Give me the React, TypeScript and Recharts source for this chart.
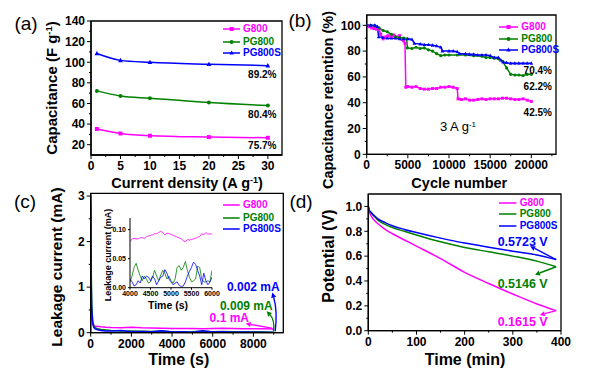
import React from 'react';
import { LineChart, Line, XAxis, YAxis, ReferenceArea, ReferenceLine } from 'recharts';

const FONT = '"Liberation Sans", Arial, Helvetica, sans-serif';
const MAGENTA = '#ff00ff';
const GREEN = '#008000';
const BLUE = '#0000ff';

// (a) capacitance vs current density
const rateDensity = [1, 5, 10, 20, 30];
const rateG800 = [35.2, 30.9, 28.7, 27.4, 26.7];
const ratePG800 = [72.2, 67.3, 65.1, 60.9, 58.0];
const ratePG800S = [108.4, 101.8, 99.9, 98.0, 96.7];
const rateXTicks = [0, 2.5, 5, 7.5, 10, 12.5, 15, 17.5, 20, 22.5, 25, 27.5, 30];
const rateXLabels = [0, 5, 10, 15, 20, 25, 30];
const rateYTicks = [20, 30, 40, 50, 60, 70, 80, 90, 100, 110, 120, 130, 140];
const rateYLabels = [20, 40, 60, 80, 100, 120, 140];

// (b) cycling retention at 3 A/g
const cycG800 = [0, 300, 600, 900, 1200, 1500, 1700, 2000, 2300, 2600, 3000, 3300, 3600, 4000, 4300, 4500, 4650, 4750, 5000, 5500, 6000, 6500, 7000, 7500, 8000, 8500, 9000, 9500, 10000, 10500, 11000, 11100, 11500, 12000, 12500, 13000, 13500, 14000, 14500, 15000, 15500, 16000, 16500, 17000, 17500, 18000, 18500, 19000, 19500, 20000];
const retG800 = [100, 99, 98, 97.5, 97, 97, 93, 89.5, 91, 92, 91, 92.5, 91, 92, 89, 88, 86, 52, 52.5, 52, 52.5, 51, 50.5, 50.5, 51, 51, 52, 52, 52.5, 52, 51, 43, 42.5, 43, 42, 42, 42.5, 43, 42.5, 43, 43, 43, 43.5, 43.5, 43, 42.5, 42.5, 43, 42, 41];
const cycPG800 = [0, 500, 1000, 1500, 2000, 2500, 3000, 3500, 4000, 4500, 4850, 4950, 5500, 6000, 6500, 7000, 7500, 8000, 8500, 9000, 9500, 10000, 11000, 12000, 13000, 14000, 14500, 15000, 15500, 16000, 16500, 17000, 17500, 18000, 18500, 19000, 19500, 20000];
const retPG800 = [100, 100, 99.5, 98, 96, 95, 93, 91, 90.5, 90, 89.5, 82.5, 82, 83, 82, 82.5, 81, 80, 78, 76.5, 77, 77, 77, 77, 76.5, 76, 75, 75, 74.5, 74, 72, 67, 62, 61.5, 61.5, 61, 62, 62];
const cycPG800S = [0, 500, 1000, 1300, 1450, 2000, 2500, 3000, 3500, 4000, 4500, 5000, 5500, 5800, 6500, 7000, 7500, 8000, 8500, 9000, 9200, 10000, 10500, 11000, 11300, 12000, 12500, 13000, 13500, 14000, 14500, 15000, 15500, 16000, 16300, 16600, 17000, 17500, 18000, 18500, 19000, 19500, 20000];
const retPG800S = [100, 100, 100, 99, 91, 90.5, 90, 90, 90, 89.5, 89.5, 89.5, 89, 86, 85.5, 85, 85, 84.5, 84, 83, 80, 80, 80, 79.5, 78, 78, 77.5, 77.5, 77, 77, 77, 76.5, 75, 75, 73, 71.5, 71, 70.5, 70.5, 70.5, 70.5, 70.5, 70.5];
const cycXTicks = [0, 2500, 5000, 7500, 10000, 12500, 15000, 17500, 20000, 22500];
const cycXLabels = [0, 5000, 10000, 15000, 20000];
const cycYTicks = [0, 10, 20, 30, 40, 50, 60, 70, 80, 90, 100];
const cycYLabels = [0, 20, 40, 60, 80, 100];

// (c) leakage current
const leakTime = [0, 20, 50, 100, 150, 200, 300, 500, 750, 1000, 1500, 2000, 2500, 3000, 3500, 4000, 4500, 5000, 5500, 6000, 6500, 7000, 7500, 8000, 8500, 9000];
const leakG800 = [0.9, 0.5, 0.3, 0.2, 0.17, 0.15, 0.14, 0.13, 0.12, 0.115, 0.11, 0.12, 0.11, 0.105, 0.1, 0.09, 0.09, 0.093, 0.085, 0.092, 0.095, 0.09, 0.088, 0.085, 0.085, 0.08];
const leakPG800 = [2.8, 1.6, 0.6, 0.25, 0.15, 0.12, 0.09, 0.07, 0.06, 0.05, 0.04, 0.035, 0.03, 0.025, 0.03, 0.02, 0.015, 0.02, 0.03, 0.02, 0.025, 0.02, 0.015, 0.02, 0.018, 0.009];
const leakPG800S = [3.0, 1.2, 0.5, 0.2, 0.12, 0.09, 0.07, 0.05, 0.04, 0.035, 0.05, 0.02, 0.025, 0.02, 0.04, 0.015, 0.02, 0.01, 0.04, 0.015, 0.02, 0.01, 0.015, 0.01, 0.012, 0.002];
const leakXTicks = [0, 1000, 2000, 3000, 4000, 5000, 6000, 7000, 8000, 9000];
const leakXLabels = [0, 2000, 4000, 6000, 8000];
const leakYTicks = [0, 0.5, 1, 1.5, 2, 2.5, 3];
const leakYLabels = [0, 1, 2, 3];

// (c) inset, 4000-6000 s
const insetTime = [4000, 4050, 4100, 4150, 4200, 4250, 4300, 4350, 4400, 4450, 4500, 4550, 4600, 4650, 4700, 4750, 4800, 4850, 4900, 4950, 5000, 5050, 5100, 5150, 5200, 5250, 5300, 5350, 5400, 5450, 5500, 5550, 5600, 5650, 5700, 5750, 5800, 5850, 5900, 5950, 6000];
const insetG800 = [0.079, 0.084, 0.085, 0.084, 0.084, 0.086, 0.086, 0.085, 0.088, 0.089, 0.09, 0.091, 0.093, 0.093, 0.095, 0.097, 0.095, 0.091, 0.094, 0.093, 0.092, 0.09, 0.089, 0.087, 0.086, 0.084, 0.081, 0.079, 0.083, 0.082, 0.083, 0.084, 0.085, 0.087, 0.088, 0.093, 0.091, 0.095, 0.092, 0.093, 0.092];
const insetPG800 = [0.01, 0.02, 0.035, 0.042, 0.03, 0.02, 0.012, 0.02, 0.015, 0.008, 0.01, 0.018, 0.03, 0.02, 0.012, 0.022, 0.03, 0.025, 0.015, 0.02, 0.012, 0.008, 0.015, 0.035, 0.038, 0.03, 0.035, 0.045, 0.03, 0.018, 0.01, 0.012, 0.015, 0.037, 0.035, 0.015, 0.01, 0.01, 0.012, 0.01, 0.03];
const insetPG800S = [0.015, 0.01, 0.003, 0.005, 0.012, 0.008, 0.02, 0.015, 0.02, 0.018, 0.012, 0.02, 0.015, 0.005, 0.012, 0.018, 0.02, 0.031, 0.025, 0.015, 0.01, 0.005, 0.008, 0.01, 0.004, 0.002, 0.003, 0.01, 0.02, 0.028, 0.035, 0.044, 0.04, 0.03, 0.02, 0.005, 0.025, 0.012, 0.005, 0.01, 0.018];
const insetXTicks = [4000, 4500, 5000, 5500, 6000];
const insetYTicks = [0, 0.05, 0.1];

// (d) self-discharge
const sdTime = [0, 2, 5, 10, 20, 35, 50, 75, 100, 150, 200, 250, 300, 350, 390];
const sdG800 = [1.0, 0.96, 0.93, 0.9, 0.86, 0.815, 0.78, 0.73, 0.68, 0.58, 0.47, 0.38, 0.295, 0.215, 0.1615];
const sdPG800 = [1.0, 0.97, 0.95, 0.93, 0.89, 0.855, 0.83, 0.8, 0.77, 0.715, 0.67, 0.635, 0.6, 0.56, 0.5146];
const sdPG800S = [1.0, 0.97, 0.955, 0.935, 0.9, 0.87, 0.845, 0.815, 0.79, 0.745, 0.705, 0.672, 0.64, 0.61, 0.5723];
const sdXTicks = [0, 50, 100, 150, 200, 250, 300, 350, 400];
const sdXLabels = [0, 100, 200, 300, 400];
const sdYTicks = [0, 0.1, 0.2, 0.3, 0.4, 0.5, 0.6, 0.7, 0.8, 0.9, 1.0];
const sdYLabels = [0, 0.2, 0.4, 0.6, 0.8, 1.0];

const pts = (xs: number[], ys: number[]) => xs.map((x, i) => ({ x, y: ys[i] }));

const AxisTick = (props: any) => {
  const { x, y, payload, side, majors, fmt, size = 12, len = 4, minorLen = 2, gap = 2 } = props;
  const v = payload.value;
  const isMajor = majors.some((m: number) => Math.abs(m - v) < 1e-9);
  const l = isMajor ? len : minorLen;
  if (side === 'bottom') {
    return (
      <g>
        <line x1={x} y1={y} x2={x} y2={y + l} stroke="#000" strokeWidth={1} />
        {isMajor && (
          <text x={x} y={y + len + gap} dy="0.75em" textAnchor="middle" fontSize={size} fontWeight="bold" fontFamily={FONT} fill="#000">
            {fmt(v)}
          </text>
        )}
      </g>
    );
  }
  return (
    <g>
      <line x1={x} y1={y} x2={x - l} y2={y} stroke="#000" strokeWidth={1} />
      {isMajor && (
        <text x={x - len - gap} y={y} dy="0.36em" textAnchor="end" fontSize={size} fontWeight="bold" fontFamily={FONT} fill="#000">
          {fmt(v)}
        </text>
      )}
    </g>
  );
};

const marker = (shape: string, color: string, s: number) => (p: any) => {
  const { cx, cy, index } = p;
  if (cx == null || cy == null) return <g key={`m${index}`} />;
  if (shape === 'square') return <rect key={`m${index}`} x={cx - s} y={cy - s} width={2 * s} height={2 * s} fill={color} />;
  if (shape === 'circle') return <circle key={`m${index}`} cx={cx} cy={cy} r={s} fill={color} />;
  return (
    <polygon key={`m${index}`} points={`${cx},${cy - s * 1.2} ${cx - s * 1.1},${cy + s * 0.8} ${cx + s * 1.1},${cy + s * 0.8}`} fill={color} />
  );
};

const arrowShape = (color: string, bend = 0) => (props: any) => {
  const { x1, y1, x2, y2 } = props;
  const dx = x2 - x1;
  const dy = y2 - y1;
  const L = Math.hypot(dx, dy) || 1;
  const cx = (x1 + x2) / 2 + (-dy / L) * bend;
  const cy = (y1 + y2) / 2 + (dx / L) * bend;
  const ex = x2 - cx;
  const ey = y2 - cy;
  const el = Math.hypot(ex, ey) || 1;
  const ux = ex / el;
  const uy = ey / el;
  const h = 5;
  const w = 2.6;
  const bx = x2 - ux * h;
  const by = y2 - uy * h;
  return (
    <g>
      <path d={`M${x1},${y1} Q${cx},${cy} ${bx},${by}`} stroke={color} strokeWidth={1.4} fill="none" />
      <polygon points={`${x2},${y2} ${bx - uy * w},${by + ux * w} ${bx + uy * w},${by - ux * w}`} fill={color} />
    </g>
  );
};

const Txt = ({ x, y, size, color = '#000', bold = true, rotate = 0, anchor = 'middle', sx = 1, children }: any) => (
  <div
    style={{
      position: 'absolute',
      left: x,
      top: y,
      transform: `translate(${anchor === 'start' ? '0' : '-50%'}, -50%) rotate(${rotate}deg) scaleX(${sx})`,
      transformOrigin: anchor === 'start' ? 'left center' : 'center',
      whiteSpace: 'nowrap',
      fontSize: size,
      fontWeight: bold ? 700 : 400,
      color,
      fontFamily: FONT,
      lineHeight: 1,
    }}
  >
    {children}
  </div>
);

const Sup = ({ children }: any) => (
  <span style={{ fontSize: '0.62em', position: 'relative', top: '-0.55em' }}>{children}</span>
);

const LegendRow = ({ x1, x2, y, color, label, shape }: any) => (
  <>
    <svg style={{ position: 'absolute', left: x1, top: y - 4 }} width={x2 - x1} height={8}>
      <line x1={0} y1={4} x2={x2 - x1} y2={4} stroke={color} strokeWidth={1.5} />
      {shape && marker(shape, color, shape === 'circle' ? 2 : 2)({ cx: (x2 - x1) / 2, cy: 4, index: 0 })}
    </svg>
    <Txt x={x2 + 3} y={y} size={10} color={color} anchor="start">
      {label}
    </Txt>
  </>
);

const axisStroke = { stroke: '#000', strokeWidth: 1.3 };

const Box = ({ left, top, children }: any) => (
  <div style={{ position: 'absolute', left, top }}>{children}</div>
);

const PanelA = () => (
  <LineChart width={300} height={190} margin={{ top: 21, right: 18, bottom: 15, left: 61 }}>
    <XAxis
      type="number"
      dataKey="x"
      domain={[0, 32.4]}
      ticks={rateXTicks}
      interval={0}
      height={20}
      allowDataOverflow
      axisLine={axisStroke}
      tickLine={false}
      tickSize={0}
      tickMargin={0}
      tick={<AxisTick side="bottom" majors={rateXLabels} fmt={(v: number) => String(v)} />}
    />
    <YAxis
      type="number"
      domain={[10, 140]}
      ticks={rateYTicks}
      interval={0}
      width={30}
      allowDataOverflow
      axisLine={axisStroke}
      tickLine={false}
      tickSize={0}
      tickMargin={0}
      tick={<AxisTick side="left" majors={rateYLabels} fmt={(v: number) => String(v)} />}
    />
    <ReferenceArea x1={0} x2={32.4} y1={10} y2={140} fill="none" stroke="#000" strokeWidth={1.3} ifOverflow="visible" />
    <Line data={pts(rateDensity, rateG800)} dataKey="y" type="monotone" stroke={MAGENTA} strokeWidth={1.5} dot={marker('square', MAGENTA, 2)} isAnimationActive={false} />
    <Line data={pts(rateDensity, ratePG800)} dataKey="y" type="monotone" stroke={GREEN} strokeWidth={1.5} dot={marker('circle', GREEN, 2)} isAnimationActive={false} />
    <Line data={pts(rateDensity, ratePG800S)} dataKey="y" type="monotone" stroke={BLUE} strokeWidth={1.5} dot={marker('triangle', BLUE, 2.2)} isAnimationActive={false} />
  </LineChart>
);

const PanelB = () => (
  <LineChart width={300} height={190} margin={{ top: 15, right: 44, bottom: 15.7, left: 36.7 }}>
    <XAxis
      type="number"
      dataKey="x"
      domain={[0, 23000]}
      ticks={cycXTicks}
      interval={0}
      height={20}
      allowDataOverflow
      axisLine={axisStroke}
      tickLine={false}
      tickSize={0}
      tickMargin={0}
      tick={<AxisTick side="bottom" majors={cycXLabels} fmt={(v: number) => String(v)} />}
    />
    <YAxis
      type="number"
      domain={[0, 108]}
      ticks={cycYTicks}
      interval={0}
      width={30}
      allowDataOverflow
      axisLine={axisStroke}
      tickLine={false}
      tickSize={0}
      tickMargin={0}
      tick={<AxisTick side="left" majors={cycYLabels} fmt={(v: number) => String(v)} />}
    />
    <ReferenceArea x1={0} x2={23000} y1={0} y2={108} fill="none" stroke="#000" strokeWidth={1.3} ifOverflow="visible" />
    <Line data={pts(cycG800, retG800)} dataKey="y" type="linear" stroke={MAGENTA} strokeWidth={1.5} dot={marker('square', MAGENTA, 1.5)} isAnimationActive={false} />
    <Line data={pts(cycPG800, retPG800)} dataKey="y" type="linear" stroke={GREEN} strokeWidth={1.5} dot={marker('circle', GREEN, 1.6)} isAnimationActive={false} />
    <Line data={pts(cycPG800S, retPG800S)} dataKey="y" type="linear" stroke={BLUE} strokeWidth={1.5} dot={marker('triangle', BLUE, 1.7)} isAnimationActive={false} />
  </LineChart>
);

const PanelC = () => (
  <LineChart width={300} height={189} margin={{ top: 13.3, right: 16.7, bottom: 16.3, left: 60.7 }}>
    <XAxis
      type="number"
      dataKey="x"
      domain={[0, 9470]}
      ticks={leakXTicks}
      interval={0}
      height={20}
      allowDataOverflow
      axisLine={axisStroke}
      tickLine={false}
      tickSize={0}
      tickMargin={0}
      tick={<AxisTick side="bottom" majors={leakXLabels} fmt={(v: number) => String(v)} />}
    />
    <YAxis
      type="number"
      domain={[0, 3.06]}
      ticks={leakYTicks}
      interval={0}
      width={30}
      allowDataOverflow
      axisLine={axisStroke}
      tickLine={false}
      tickSize={0}
      tickMargin={0}
      tick={<AxisTick side="left" majors={leakYLabels} fmt={(v: number) => String(v)} />}
    />
    <ReferenceArea x1={0} x2={9470} y1={0} y2={3.06} fill="none" stroke="#000" strokeWidth={1.3} ifOverflow="visible" />
    <Line data={pts(leakTime, leakG800)} dataKey="y" type="linear" stroke={MAGENTA} strokeWidth={1.5} dot={false} isAnimationActive={false} />
    <Line data={pts(leakTime, leakPG800)} dataKey="y" type="linear" stroke={GREEN} strokeWidth={1.5} dot={false} isAnimationActive={false} />
    <Line data={pts(leakTime, leakPG800S)} dataKey="y" type="linear" stroke={BLUE} strokeWidth={1.5} dot={false} isAnimationActive={false} />
    <ReferenceLine segment={[{ x: 8900, y: 0.1 }, { x: 7620, y: 0.2 }]} shape={arrowShape(MAGENTA, 0)} ifOverflow="visible" />
    <ReferenceLine segment={[{ x: 8990, y: 0.03 }, { x: 8650, y: 0.47 }]} shape={arrowShape(GREEN, 5)} ifOverflow="visible" />
    <ReferenceLine segment={[{ x: 9070, y: 0.03 }, { x: 8930, y: 0.88 }]} shape={arrowShape(BLUE, 4)} ifOverflow="visible" />
  </LineChart>
);

const Inset = () => (
  <LineChart width={125} height={90} margin={{ top: 8, right: 13, bottom: 2.3, left: 10 }}>
    <XAxis
      type="number"
      dataKey="x"
      domain={[4000, 6000]}
      ticks={insetXTicks}
      interval={0}
      height={10}
      allowDataOverflow
      axisLine={{ stroke: '#000', strokeWidth: 1 }}
      tickLine={false}
      tickSize={0}
      tickMargin={0}
      tick={<AxisTick side="bottom" majors={insetXTicks} size={7} len={2} gap={1} fmt={(v: number) => String(v)} />}
    />
    <YAxis
      type="number"
      domain={[0, 0.12]}
      ticks={insetYTicks}
      interval={0}
      width={20}
      allowDataOverflow
      axisLine={{ stroke: '#000', strokeWidth: 1 }}
      tickLine={false}
      tickSize={0}
      tickMargin={0}
      tick={<AxisTick side="left" majors={insetYTicks} size={7} len={2} gap={2} fmt={(v: number) => v.toFixed(2)} />}
    />
    <Line data={pts(insetTime, insetG800)} dataKey="y" type="linear" stroke={MAGENTA} strokeWidth={0.8} dot={false} isAnimationActive={false} />
    <Line data={pts(insetTime, insetPG800)} dataKey="y" type="linear" stroke={GREEN} strokeWidth={0.8} dot={false} isAnimationActive={false} />
    <Line data={pts(insetTime, insetPG800S)} dataKey="y" type="linear" stroke={BLUE} strokeWidth={0.8} dot={false} isAnimationActive={false} />
  </LineChart>
);

const PanelD = () => (
  <LineChart width={300} height={189} margin={{ top: 14, right: 39, bottom: 18.3, left: 38.3 }}>
    <XAxis
      type="number"
      dataKey="x"
      domain={[0, 400]}
      ticks={sdXTicks}
      interval={0}
      height={20}
      allowDataOverflow
      axisLine={axisStroke}
      tickLine={false}
      tickSize={0}
      tickMargin={0}
      tick={<AxisTick side="bottom" majors={sdXLabels} fmt={(v: number) => String(v)} />}
    />
    <YAxis
      type="number"
      domain={[0, 1.1]}
      ticks={sdYTicks}
      interval={0}
      width={30}
      allowDataOverflow
      axisLine={axisStroke}
      tickLine={false}
      tickSize={0}
      tickMargin={0}
      tick={<AxisTick side="left" majors={sdYLabels} fmt={(v: number) => v.toFixed(1)} />}
    />
    <ReferenceArea x1={0} x2={400} y1={0} y2={1.1} fill="none" stroke="#000" strokeWidth={1.3} ifOverflow="visible" />
    <Line data={pts(sdTime, sdG800)} dataKey="y" type="monotone" stroke={MAGENTA} strokeWidth={1.5} dot={false} isAnimationActive={false} />
    <Line data={pts(sdTime, sdPG800)} dataKey="y" type="monotone" stroke={GREEN} strokeWidth={1.5} dot={false} isAnimationActive={false} />
    <Line data={pts(sdTime, sdPG800S)} dataKey="y" type="monotone" stroke={BLUE} strokeWidth={1.5} dot={false} isAnimationActive={false} />
    <ReferenceLine segment={[{ x: 390, y: 0.5723 }, { x: 336, y: 0.68 }]} shape={arrowShape(BLUE, 0)} ifOverflow="visible" />
    <ReferenceLine segment={[{ x: 390, y: 0.5146 }, { x: 346, y: 0.45 }]} shape={arrowShape(GREEN, 0)} ifOverflow="visible" />
    <ReferenceLine segment={[{ x: 390, y: 0.1615 }, { x: 356, y: 0.127 }]} shape={arrowShape(MAGENTA, 0)} ifOverflow="visible" />
  </LineChart>
);

export default function App() {
  return (
    <div style={{ position: 'absolute', left: 0, top: 0, width: 600, height: 369, background: '#fff', overflow: 'hidden', fontFamily: FONT }}>
      <Box left={0} top={0}><PanelA /></Box>
      <Box left={300} top={0}><PanelB /></Box>
      <Box left={0} top={180}><PanelC /></Box>
      <Box left={300} top={180}><PanelD /></Box>
      <Box left={100} top={210}><Inset /></Box>

      {/* panel letters */}
      <Txt x={26} y={23} size={19} bold={false}>(a)</Txt>
      <Txt x={300} y={20} size={19} bold={false}>(b)</Txt>
      <Txt x={25} y={201} size={19} bold={false}>(c)</Txt>
      <Txt x={301} y={201} size={19} bold={false}>(d)</Txt>

      {/* (a) */}
      <Txt x={52} y={88} size={15} rotate={-90}>Capacitance (F g<Sup>-1</Sup>)</Txt>
      <Txt x={187} y={183} size={14.5}>Current density (A g<Sup>-1</Sup>)</Txt>
      <LegendRow x1={222.7} x2={240} y={29.3} color={MAGENTA} label="G800" shape="square" />
      <LegendRow x1={222.7} x2={240} y={41.7} color={GREEN} label="PG800" shape="circle" />
      <LegendRow x1={222.7} x2={240} y={53.3} color={BLUE} label="PG800S" shape="triangle" />
      <Txt x={262.3} y={75} size={10}>89.2%</Txt>
      <Txt x={262.3} y={115} size={10}>80.4%</Txt>
      <Txt x={262.3} y={145.7} size={10}>75.7%</Txt>

      {/* (b) */}
      <Txt x={327.5} y={100} size={14.5} rotate={-90}>Capacitance retention (%)</Txt>
      <Txt x={459.3} y={182.7} size={14.5}>Cycle number</Txt>
      <LegendRow x1={499.3} x2={518.3} y={26.7} color={MAGENTA} label="G800" shape="square" />
      <LegendRow x1={499.3} x2={518.3} y={39} color={GREEN} label="PG800" shape="circle" />
      <LegendRow x1={499.3} x2={518.3} y={50} color={BLUE} label="PG800S" shape="triangle" />
      <Txt x={537.8} y={70.7} size={10}>70.4%</Txt>
      <Txt x={537.8} y={87.3} size={10}>62.2%</Txt>
      <Txt x={537.8} y={113.3} size={10}>42.5%</Txt>
      <Txt x={458} y={127} size={13} bold={false}>3 A g<Sup>-1</Sup></Txt>

      {/* (c) */}
      <Txt x={56.7} y={266.7} size={15.5} rotate={-90}>Leakage current (mA)</Txt>
      <Txt x={178.7} y={360} size={16}>Time (s)</Txt>
      <LegendRow x1={223.3} x2={240} y={205} color={MAGENTA} label="G800" />
      <LegendRow x1={223.3} x2={240} y={217.7} color={GREEN} label="PG800" />
      <LegendRow x1={223.3} x2={240} y={229} color={BLUE} label="PG800S" />
      <Txt x={108} y={255} size={9} rotate={-90}>Leakage current (mA)</Txt>
      <Txt x={168} y={305} size={10.5}>Time (s)</Txt>
      <Txt x={253.3} y={287.3} size={12} color={BLUE}>0.002 mA</Txt>
      <Txt x={246.3} y={306} size={12} color={GREEN}>0.009 mA</Txt>
      <Txt x={229.3} y={318.3} size={12} color={MAGENTA}>0.1 mA</Txt>

      {/* (d) */}
      <Txt x={329} y={255.8} size={16} rotate={-90}>Potential (V)</Txt>
      <Txt x={465} y={360} size={16}>Time (min)</Txt>
      <LegendRow x1={499.3} x2={516.7} y={202.7} color={MAGENTA} label="G800" />
      <LegendRow x1={499.3} x2={516.7} y={214.3} color={GREEN} label="PG800" />
      <LegendRow x1={499.3} x2={516.7} y={225.7} color={BLUE} label="PG800S" />
      <Txt x={522.7} y={241.7} size={12.5} color={BLUE}>0.5723 V</Txt>
      <Txt x={522.7} y={284} size={12.5} color={GREEN}>0.5146 V</Txt>
      <Txt x={522.7} y={321.7} size={12.5} color={MAGENTA}>0.1615 V</Txt>
    </div>
  );
}
